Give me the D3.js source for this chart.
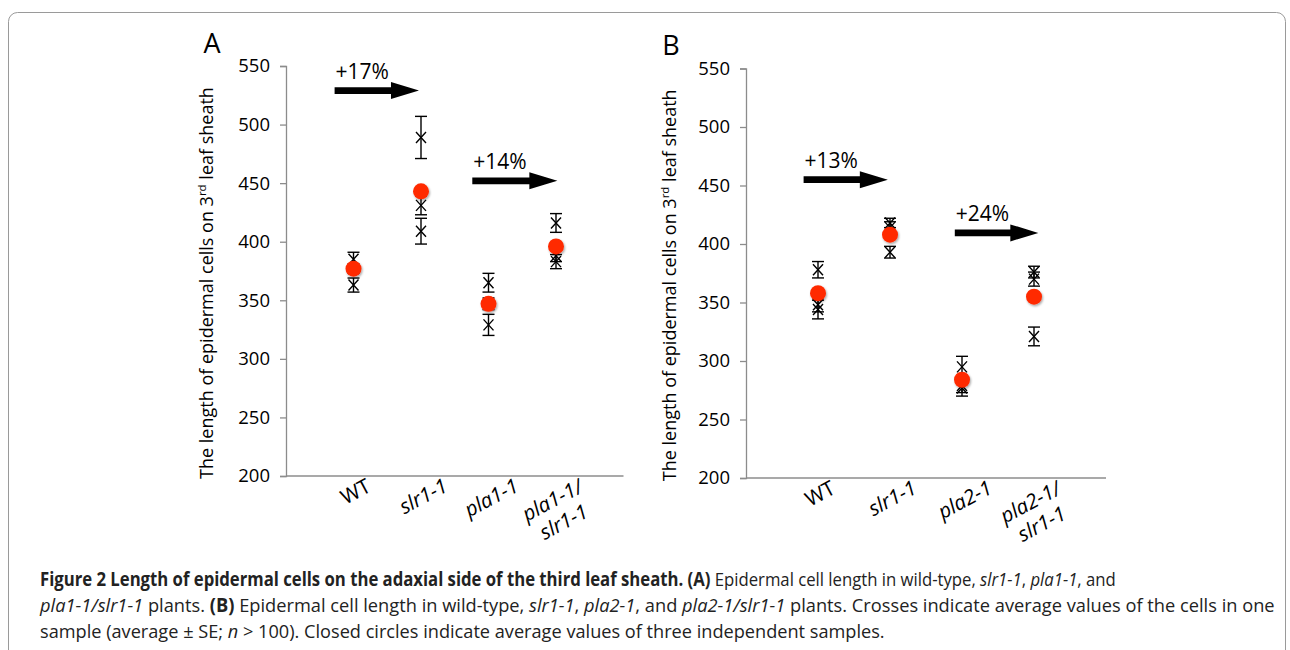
<!DOCTYPE html>
<html><head><meta charset="utf-8">
<script src="https://cdn.jsdelivr.net/npm/d3@7"></script>
<style>
html,body{margin:0;padding:0;background:#fff;}
svg{display:block;font-family:"Open Sans",sans-serif;}
</style></head>
<body>
<svg id="chart" width="1290" height="650"></svg>
<script>
// ---------- data ----------
const categoriesA = ["WT", "slr1-1", "pla1-1", "pla1-1/|slr1-1"];
const crossesA = [[385, 377, 363], [489, 431, 409], [365, 347, 329], [416, 388, 383]];
const seA = [[6, 4, 6], [18, 8, 11], [8, 5, 9], [8, 5, 6]];
const meansA = [377, 443, 347, 396];
const arrowsA = [{label: "+17%", x0: 0.72, x1: 1.97, y: 529}, {label: "+14%", x0: 2.76, x1: 4.02, y: 452}];

const categoriesB = ["WT", "slr1-1", "pla2-1", "pla2-1/|slr1-1"];
const crossesB = [[378, 348, 344], [418, 414, 393], [295, 279, 277], [376, 370, 321]];
const seB = [[7, 6, 8], [4, 5, 5], [9, 6, 7], [5, 6, 8]];
const meansB = [358, 408, 284, 355];
const arrowsB = [{label: "+13%", x0: 0.80, x1: 1.97, y: 455}, {label: "+24%", x0: 2.90, x1: 4.06, y: 409.5}];

const yTicks = [200, 250, 300, 350, 400, 450, 500, 550];
const yTitle = ["The length of epidermal cells on 3", "rd", " leaf sheath"];

// ---------- drawing ----------
const svg = d3.select("#chart");
const defs = svg.append("defs");
const f = defs.append("filter").attr("id", "shadow").attr("x", "-50%").attr("y", "-50%").attr("width", "200%").attr("height", "200%");
f.append("feDropShadow").attr("dx", 1).attr("dy", 1.5).attr("stdDeviation", 1.2).attr("flood-color", "#000").attr("flood-opacity", 0.35);

// frame
svg.append("rect").attr("x", 8.5).attr("y", 12.5).attr("width", 1277).attr("height", 660)
  .attr("rx", 9).attr("fill", "none").attr("stroke", "#9a9a9a").attr("stroke-width", 1);

function panel(letter, cats, crosses, se, means, arrows, xr, yr, letterPos, titleX) {
  const x = d3.scaleLinear().domain([0, 5]).range(xr);
  const y = d3.scaleLinear().domain([200, 550]).range(yr);
  const g = svg.append("g");

  // y axis
  const ya = d3.axisLeft(y).tickValues(yTicks).tickSize(6).tickPadding(10).tickFormat(d3.format("d"));
  const yg = g.append("g").attr("transform", `translate(${x(0)},0)`).call(ya);
  yg.select(".domain").attr("stroke", "#8c8c8c").attr("stroke-width", 1.3);
  yg.selectAll(".tick line").attr("stroke", "#8c8c8c").attr("stroke-width", 1.3);
  yg.selectAll(".tick text").attr("font-family", "Open Sans").attr("font-size", 18.5).attr("fill", "#000");

  // x axis line
  g.append("line").attr("x1", x(0)).attr("x2", x(5)).attr("y1", y(200)).attr("y2", y(200))
    .attr("stroke", "#8c8c8c").attr("stroke-width", 1.3);

  // x tick labels (rotated, centred under the category, top aligned below axis)
  cats.forEach((c, i) => {
    const lines = c.split("|");
    const lg = g.append("g");
    const t = lg.append("text")
      .attr("transform", "rotate(-28)")
      .attr("text-anchor", "middle").attr("font-size", 20.5).attr("font-family", "Open Sans")
      .attr("font-style", c === "WT" ? "normal" : "italic");
    lines.forEach((l, k) => t.append("tspan").attr("x", 0).attr("dy", k === 0 ? 0 : "1.2em").text(l));
    const bb = lg.node().getBBox();
    lg.attr("transform", `translate(${x(i + 1) - (bb.x + bb.width / 2) + 2},${y(200) - 5 - bb.y})`);
  });

  // y title
  const tt = g.append("text")
    .attr("transform", `translate(${titleX},${(yr[0] + yr[1]) / 2 + 12}) rotate(-90)`)
    .attr("text-anchor", "middle").attr("font-size", 18).attr("font-family", "Open Sans");
  tt.append("tspan").text(yTitle[0]);
  tt.append("tspan").attr("font-size", 11.5).attr("dy", -7).text(yTitle[1]);
  tt.append("tspan").attr("dy", 7).text(yTitle[2]);

  // panel letter
  g.append("text").attr("x", letterPos[0]).attr("y", letterPos[1]).attr("text-anchor", "middle")
    .attr("font-size", 27).attr("font-family", "Open Sans").text(letter);

  // crosses with error bars
  const pts = [];
  crosses.forEach((arr, i) => arr.forEach((v, k) => pts.push({i, v, s: se[i][k]})));
  const cg = g.append("g").attr("stroke", "#000").attr("stroke-width", 1.4).attr("fill", "none");
  pts.forEach(p => {
    const cx = x(p.i + 1);
    const yt = y(p.v + p.s), yb = y(p.v - p.s), yc = y(p.v);
    cg.append("line").attr("x1", cx).attr("x2", cx).attr("y1", yt).attr("y2", yb);
    cg.append("line").attr("x1", cx - 6).attr("x2", cx + 6).attr("y1", yt).attr("y2", yt);
    cg.append("line").attr("x1", cx - 6).attr("x2", cx + 6).attr("y1", yb).attr("y2", yb);
    cg.append("path").attr("d", `M${cx - 5},${yc - 5.5}L${cx + 5},${yc + 5.5}M${cx - 5},${yc + 5.5}L${cx + 5},${yc - 5.5}`);
  });

  // means
  g.selectAll("circle.mean").data(means).enter().append("circle")
    .attr("class", "mean").attr("cx", (d, i) => x(i + 1)).attr("cy", d => y(d)).attr("r", 8)
    .attr("fill", "#ff2a00").attr("filter", "url(#shadow)");

  // arrows
  arrows.forEach(a => {
    const x0 = x(a.x0), x1 = x(a.x1), yy = y(a.y);
    const hl = 28, hw = 8.5, sw = 3.4;
    g.append("path")
      .attr("d", `M${x0},${yy - sw}L${x1 - hl},${yy - sw}L${x1 - hl},${yy - hw}L${x1},${yy}L${x1 - hl},${yy + hw}L${x1 - hl},${yy + sw}L${x0},${yy + sw}Z`)
      .attr("fill", "#000");
    g.append("text").attr("x", x0 + 1).attr("y", yy - 12).attr("font-size", 21)
      .attr("font-family", "Open Sans").text(a.label);
  });
}

panel("A", categoriesA, crossesA, seA, meansA, arrowsA, [286, 623.5], [476, 66], [212, 53], 213);
panel("B", categoriesB, crossesB, seB, meansB, arrowsB, [746, 1106], [478, 68.5], [671, 55], 676);

// caption (condensed by horizontal scaling to the reference line widths)
const cap = svg.append("g").attr("font-family", "'Open Sans',sans-serif").attr("font-size", 19).attr("fill", "#222");
const capLines = [
  {y: 586, len: 1077, parts: [["Figure 2 Length of epidermal cells on the adaxial side of the third leaf sheath. ", "b"], ["(A)", "b"], [" Epidermal cell length in wild-type, ", ""], ["slr1-1", "i"], [", ", ""], ["pla1-1", "i"], [", and", ""]]},
  {y: 612, len: 1236, parts: [["pla1-1/slr1-1", "i"], [" plants. ", ""], ["(B)", "b"], [" Epidermal cell length in wild-type, ", ""], ["slr1-1", "i"], [", ", ""], ["pla2-1", "i"], [", and ", ""], ["pla2-1/slr1-1", "i"], [" plants. Crosses indicate average values of the cells in one", ""]]},
  {y: 638, len: 845, parts: [["sample (average ± SE; ", ""], ["n", "i"], [" > 100). Closed circles indicate average values of three independent samples.", ""]]}
];
capLines.forEach(L => {
  const t = cap.append("text").attr("x", 0).attr("y", 0);
  L.parts.forEach(p => {
    const s = t.append("tspan").text(p[0]);
    if (p[1] === "b") s.attr("font-weight", "bold");
    if (p[1] === "i") s.attr("font-style", "italic");
  });
  const w = t.node().getBBox().width;
  t.attr("transform", `translate(40,${L.y}) scale(${L.len / w},1)`);
});
</script>
</body></html>
